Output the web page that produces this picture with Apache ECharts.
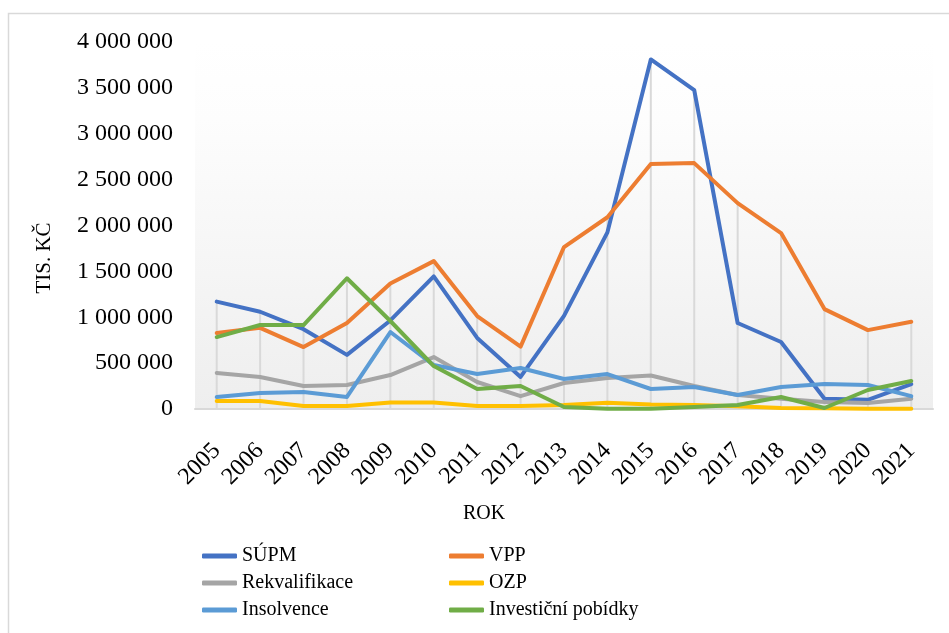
<!DOCTYPE html>
<html>
<head>
<meta charset="utf-8">
<script src="https://cdn.jsdelivr.net/npm/echarts@6/dist/echarts.min.js"></script>
<style>
html,body{margin:0;padding:0;background:#fff;}
#chart{width:949px;height:633px;}
</style>
</head>
<body>
<div id="chart"></div>
<script>
var years = ['2005','2006','2007','2008','2009','2010','2011','2012','2013','2014','2015','2016','2017','2018','2019','2020','2021'];
var supm   = [1170000,1060000,870000,590000,965000,1445000,775000,350000,1015000,1925000,3810000,3475000,937000,730000,112000,100000,270000];
var vpp    = [828000,885000,675000,937000,1368000,1612000,1013000,680000,1765000,2090000,2670000,2680000,2244000,1917000,1089000,860000,950000];
var rekv   = [392000,349000,250000,261000,370000,566000,294000,140000,283000,338000,365000,250000,152000,112000,76000,65000,112000];
var ozp    = [87000,87000,33000,33000,70000,70000,33000,33000,44000,68000,50000,44000,30000,10000,8000,3000,3000];
var insol  = [131000,174000,185000,131000,839000,479000,381000,447000,327000,381000,218000,240000,152000,240000,272000,261000,140000];
var invest = [784000,915000,915000,1425000,959000,468000,218000,250000,22000,3000,3000,22000,44000,131000,11000,207000,305000];
var yTicks = {min:0, max:4000000, interval:500000};

var seriesDefs = [
  {name:'SÚPM', data:supm, color:'#4472C4'},
  {name:'VPP', data:vpp, color:'#ED7D31'},
  {name:'Rekvalifikace', data:rekv, color:'#A5A5A5'},
  {name:'OZP', data:ozp, color:'#FFC000'},
  {name:'Insolvence', data:insol, color:'#5B9BD5'},
  {name:'Investiční pobídky', data:invest, color:'#70AD47'}
];
var dropMax = years.map(function(_, i){
  return Math.max.apply(null, seriesDefs.map(function(s){return s.data[i];}));
});

var serif = 'Liberation Serif';
var chart = echarts.init(document.getElementById('chart'));
var series = [{
  name:'drop', type:'bar', data:dropMax, barWidth:2, silent:true, z:1,
  itemStyle:{color:'#d9d9d9'}
}];
seriesDefs.forEach(function(s){
  series.push({
    name:s.name, type:'line', data:s.data, showSymbol:false, symbol:'none', z:3,
    lineStyle:{width:4, color:s.color, cap:'round', join:'round'},
    itemStyle:{color:s.color}
  });
});
var legendText = {fontFamily:serif, fontSize:20, color:'#000', lineHeight:20};
chart.setOption({
  animation:false,
  backgroundColor:'#fff',
  textStyle:{fontFamily:serif},
  grid:{left:195, right:16, top:42, bottom:224, show:true, borderWidth:0,
    backgroundColor:{type:'linear', x:0, y:0, x2:0, y2:1, colorStops:[
      {offset:0, color:'#ffffff'},{offset:0.21, color:'#fdfdfd'},{offset:1, color:'#eeeeee'}]}},
  xAxis:{type:'category', data:years, boundaryGap:true,
    axisLine:{lineStyle:{color:'#d9d9d9', width:2}},
    axisTick:{show:false},
    axisLabel:{rotate:45, fontFamily:serif, fontSize:24, color:'#000', margin:38, interval:0},
    splitLine:{show:false}
  },
  yAxis:{type:'value', min:yTicks.min, max:yTicks.max, interval:yTicks.interval,
    axisLine:{show:false}, axisTick:{show:false}, splitLine:{show:false},
    axisLabel:{fontFamily:serif, fontSize:24, color:'#000', margin:22,
      formatter:function(v){return String(v).replace(/\B(?=(\d{3})+(?!\d))/g,' ');}}
  },
  legend:[
    {orient:'vertical', left:202, top:546, padding:0, itemGap:7, icon:'roundRect', itemWidth:35, itemHeight:5,
     data:['SÚPM','Rekvalifikace','Insolvence'], textStyle:legendText},
    {orient:'vertical', left:449, top:546, padding:0, itemGap:7, icon:'roundRect', itemWidth:35, itemHeight:5,
     data:['VPP','OZP','Investiční pobídky'], textStyle:legendText}
  ],
  graphic:[
    {type:'rect', shape:{x:8.5, y:13.5, width:950, height:640}, style:{fill:null, stroke:'#d9d9d9', lineWidth:1.5}, z:-10},
    {type:'text', x:44, y:258, rotation:Math.PI/2, style:{text:'TIS. KČ', font:'21px "Liberation Serif"', fill:'#000', align:'center', verticalAlign:'middle'}},
    {type:'text', x:484, y:514, style:{text:'ROK', font:'20px "Liberation Serif"', fill:'#000', align:'center', verticalAlign:'middle'}}
  ],
  series:series
});
</script>
</body>
</html>
